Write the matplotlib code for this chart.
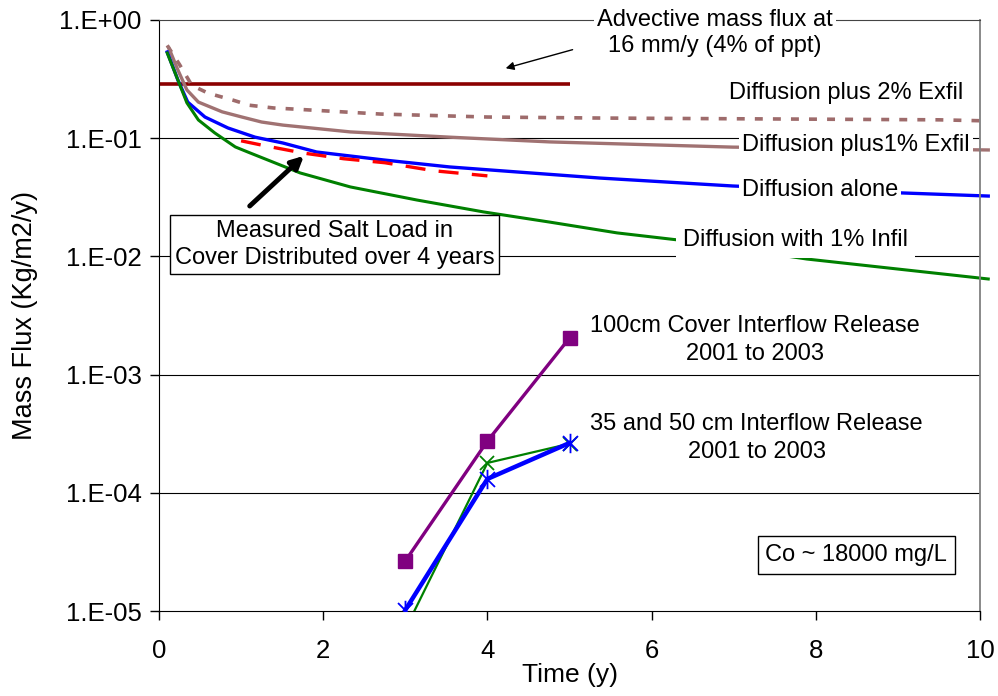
import numpy as np
import matplotlib
matplotlib.use('Agg')
import matplotlib.pyplot as plt
from matplotlib.path import Path
from matplotlib.ticker import FixedLocator, FuncFormatter, NullLocator

plt.rcParams['font.family'] = ['Liberation Sans', 'DejaVu Sans']
FS = 17      # annotations
FS_TICK = 18.5
FS_LAB = 19

# model curves (time in years, mass flux in Kg/m2/y)
t_adv = [0.0, 5.0]
f_adv = [0.29, 0.29]

t_exfil2 = [0.1, 0.25, 0.4, 0.6, 0.9, 1.1, 1.4, 1.6, 2.7, 4.0, 5.4, 7.0, 9.5, 10.1]
f_exfil2 = [0.61, 0.42, 0.28, 0.24, 0.21, 0.19, 0.18, 0.177, 0.16, 0.151, 0.148, 0.146, 0.143, 0.140]

t_exfil1 = [0.12, 0.23, 0.34, 0.48, 0.77, 1.01, 1.25, 1.51, 2.33, 3.54, 4.76, 6.99, 10.1]
f_exfil1 = [0.58, 0.378, 0.256, 0.202, 0.167, 0.151, 0.137, 0.129, 0.113, 0.102, 0.093, 0.084, 0.0795]

t_diff = [0.1, 0.23, 0.35, 0.56, 0.84, 1.17, 1.51, 1.92, 2.73, 3.54, 4.36, 5.37, 6.99, 9.06, 10.1]
f_diff = [0.536, 0.311, 0.202, 0.151, 0.122, 0.102, 0.091, 0.0764, 0.0655, 0.0571, 0.0518, 0.046, 0.0394, 0.0344, 0.0324]

t_infil = [0.1, 0.23, 0.34, 0.48, 0.68, 0.93, 1.11, 1.72, 2.33, 3.14, 3.95, 4.76, 5.58, 6.31, 7.89, 10.1]
f_infil = [0.526, 0.311, 0.199, 0.1426, 0.1107, 0.0843, 0.075, 0.0508, 0.0387, 0.030, 0.0238, 0.0195, 0.0158, 0.0138, 0.0095, 0.00644]

# measured salt load spread over 4 years
t_meas = [1.0, 1.3, 1.75, 2.25, 2.75, 3.35, 4.0]
f_meas = [0.095, 0.086, 0.075, 0.067, 0.062, 0.053, 0.048]

# interflow releases 2001-2003
t_rel = [3, 4, 5]
f_rel100 = [2.65e-5, 2.74e-4, 2.04e-3]
f_rel35 = [1.02e-5, 1.31e-4, 2.64e-4]
f_rel50 = [7.0e-6, 1.79e-4, 2.6e-4]

ytick_vals = [1e0, 1e-1, 1e-2, 1e-3, 1e-4, 1e-5]
xtick_vals = [0, 2, 4, 6, 8, 10]

fig = plt.figure(figsize=(9.98, 6.96), dpi=100)
ax = fig.add_axes([0.1593, 0.1221, 0.8227, 0.8492])
ax.set_yscale('log')
ax.set_xlim(0, 10)
ax.set_ylim(1e-5, 1e0)

for v in ytick_vals[1:-1]:
    ax.axhline(v, color='black', lw=0.8, zorder=1)

ax.plot(t_adv, f_adv, color='#8B0000', lw=2.6, solid_capstyle='butt', zorder=2, clip_on=False)
ax.plot(t_exfil2, f_exfil2, color='#9E6B6B', lw=2.6, ls=(0, (2.2, 2.8)), zorder=2, clip_on=False)
ax.plot(t_exfil1, f_exfil1, color='#A07272', lw=2.4, zorder=2, clip_on=False)
ax.plot(t_diff, f_diff, color='#0000FF', lw=2.4, zorder=2, clip_on=False)
ax.plot(t_infil, f_infil, color='#008000', lw=2.2, zorder=2, clip_on=False)
ax.plot(t_meas, f_meas, color='#FF0000', lw=2.4, ls=(0, (6, 4)), zorder=2)

ast = Path([(-1, -1), (1, 1), (-1, 1), (1, -1), (0, -1.3), (0, 1.3)],
           [Path.MOVETO, Path.LINETO, Path.MOVETO, Path.LINETO, Path.MOVETO, Path.LINETO])
ax.plot(t_rel, f_rel50, color='#008000', lw=1.6, marker='x', ms=10, mew=1.3, zorder=3)
ax.plot(t_rel, f_rel35, color='#0000FF', lw=3.2, marker=ast, ms=14, mew=1.3,
        mec='#0000FF', mfc='none', zorder=4)
ax.plot(t_rel, f_rel100, color='#800080', lw=2.4, marker='s', ms=9.5, zorder=4)

# axes styling
ax.yaxis.set_major_locator(FixedLocator(ytick_vals))
ax.yaxis.set_minor_locator(NullLocator())
ax.yaxis.set_major_formatter(FuncFormatter(lambda v, p: '1.E%+03d' % int(round(np.log10(v)))))
ax.set_xticks(xtick_vals)
ax.tick_params(axis='both', direction='out', length=6.5, width=1, labelsize=FS_TICK)
ax.tick_params(axis='y', pad=6)
ax.tick_params(axis='x', pad=14)
ax.spines['left'].set_color('black')
ax.spines['bottom'].set_color('black')
ax.spines['top'].set_color('#444444')
ax.spines['right'].set_color('#808080')
ax.spines['right'].set_linewidth(1.3)
ax.set_xlabel('Time (y)', fontsize=FS_LAB, labelpad=0)
ax.set_ylabel('Mass Flux (Kg/m2/y)', fontsize=FS_LAB + 0.5, labelpad=15)

# annotations
white = dict(facecolor='white', edgecolor='none', pad=2)
ax.text(6.77, 0.776, 'Advective mass flux at\n16 mm/y (4% of ppt)', ha='center', va='center',
        fontsize=FS, linespacing=1.25, bbox=white, zorder=5)
ax.annotate('', xy=(4.19, 0.385), xytext=(5.07, 0.569),
            arrowprops=dict(arrowstyle='-|>', color='black', lw=1, mutation_scale=12), zorder=5)
ax.text(8.37, 0.241, 'Diffusion plus 2% Exfil', ha='center', va='center', fontsize=FS, zorder=5)
ax.text(8.49, 0.0876, 'Diffusion plus1% Exfil', ha='center', va='center', fontsize=FS,
        bbox=white, zorder=5)
ax.text(8.05, 0.0365, 'Diffusion alone', ha='center', va='center', fontsize=FS,
        bbox=white, zorder=5)
ax.text(7.75, 0.0138, 'Diffusion with 1% Infil', ha='center', va='center', fontsize=FS,
        bbox=dict(facecolor='white', edgecolor='none', pad=5), zorder=5)
ax.text(2.14, 0.0127, 'Measured Salt Load in\nCover Distributed over 4 years', ha='center',
        va='center', fontsize=FS, linespacing=1.3,
        bbox=dict(facecolor='white', edgecolor='black', lw=1, pad=3.5), zorder=5)
ax.annotate('', xy=(1.79, 0.0735), xytext=(1.08, 0.0257),
            arrowprops=dict(arrowstyle='-|>', color='black', lw=3.5, mutation_scale=18), zorder=5)
ax.text(7.26, 1.96e-3, '100cm Cover Interflow Release\n2001 to 2003', ha='center', va='center',
        fontsize=FS, linespacing=1.4, zorder=5)
ax.text(7.28, 2.91e-4, '35 and 50 cm Interflow Release\n2001 to 2003', ha='center', va='center',
        fontsize=FS, linespacing=1.4, zorder=5)
ax.text(8.49, 2.98e-5, 'Co ~ 18000 mg/L', ha='center', va='center', fontsize=FS,
        bbox=dict(facecolor='white', edgecolor='black', lw=1, pad=5.5), zorder=5)

fig.savefig('out.png', dpi=100)
